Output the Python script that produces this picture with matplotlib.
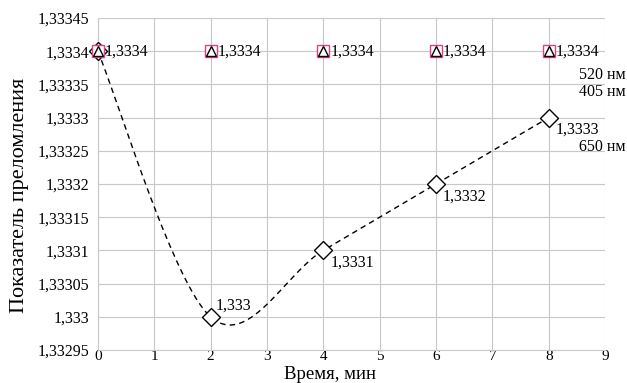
import numpy as np
import matplotlib.pyplot as plt
from matplotlib.ticker import FuncFormatter

plt.rcParams['font.family'] = ['Liberation Serif', 'DejaVu Serif']

time_min = [0, 2, 4, 6, 8]
n_520 = [1.3334, 1.3334, 1.3334, 1.3334, 1.3334]
n_405 = [1.3334, 1.3334, 1.3334, 1.3334, 1.3334]
n_650 = [1.3334, 1.3330, 1.3331, 1.3332, 1.3333]
y_ticks = [1.33295, 1.333, 1.33305, 1.3331, 1.33315, 1.3332,
           1.33325, 1.3333, 1.33335, 1.3334, 1.33345]


def comma(v, pos=None):
    s = f"{v:.5f}".rstrip("0").rstrip(".")
    return s.replace(".", ",")


def smooth(xs, ys, steps=40):
    # Excel-like smoothed line (Catmull-Rom through bezier segments)
    x = np.array(xs, float)
    y = np.array(ys, float)
    px = np.concatenate([[x[0]], x, [x[-1]]])
    py = np.concatenate([[y[0]], y, [y[-1]]])
    ox, oy = [], []
    t = np.linspace(0, 1, steps)
    for i in range(1, len(px) - 2):
        p0 = np.array([px[i], py[i]])
        p3 = np.array([px[i + 1], py[i + 1]])
        p1 = p0 + (np.array([px[i + 1], py[i + 1]]) - np.array([px[i - 1], py[i - 1]])) / 6
        p2 = p3 - (np.array([px[i + 2], py[i + 2]]) - np.array([px[i], py[i]])) / 6
        b = ((1 - t) ** 3)[:, None] * p0 + (3 * (1 - t) ** 2 * t)[:, None] * p1 \
            + (3 * (1 - t) * t ** 2)[:, None] * p2 + (t ** 3)[:, None] * p3
        ox.extend(b[:, 0])
        oy.extend(b[:, 1])
    return ox, oy


fig = plt.figure(figsize=(6.27, 3.83), dpi=100)
ax = fig.add_axes([0.156, 0.086, 0.809, 0.867])

sx, sy = smooth(time_min, n_650)
ax.plot(sx, sy, color="black", linestyle=(0, (4, 3)), linewidth=1.0, zorder=3, clip_on=False)
ax.plot(time_min, n_650, linestyle="none", marker="D", markersize=9,
        markerfacecolor="white", markeredgecolor="black", markeredgewidth=1.0,
        zorder=4, clip_on=False)
ax.plot(time_min, n_520, linestyle="none", marker="s", markersize=8.5,
        markerfacecolor="white", markeredgecolor="#e0408a", markeredgewidth=1.0,
        zorder=5, clip_on=False)
ax.plot(time_min, n_405, linestyle="none", marker="^", markersize=7,
        markerfacecolor="white", markeredgecolor="black", markeredgewidth=1.0,
        zorder=6, clip_on=False)

for x, y in zip(time_min, n_405):
    ax.annotate(comma(y), (x, y), xytext=(5, 0), textcoords="offset points",
                va="center", ha="left", fontsize=11.5, zorder=7)
for x, y in zip(time_min[1:], n_650[1:]):
    if x == 2:
        ax.annotate(comma(y), (x, y), xytext=(4, 2), textcoords="offset points",
                    va="bottom", ha="left", fontsize=11.5)
    else:
        ax.annotate(comma(y), (x, y), xytext=(5, -3), textcoords="offset points",
                    va="top", ha="left", fontsize=11.5)

ax.set_xlim(0, 9)
ax.set_ylim(1.33295, 1.33345)
ax.set_xticks(range(10))
ax.set_yticks(y_ticks)
ax.yaxis.set_major_formatter(FuncFormatter(comma))
ax.tick_params(axis="both", labelsize=11.5, length=0)
ax.tick_params(axis="y", pad=6)
ax.tick_params(axis="x", labelsize=11, pad=0)
ax.grid(True, color="#c8c8c8", linewidth=0.8)
ax.set_axisbelow(True)
for sp in ax.spines.values():
    sp.set_color("#c8c8c8")
    sp.set_linewidth(0.8)
ax.spines["top"].set_visible(False)
ax.spines["right"].set_visible(False)

ax.set_xlabel("Время, мин", fontsize=13.5)
ax.xaxis.set_label_coords(0.458, -0.1, transform=ax.transAxes)
ax.xaxis.label.set_va("bottom")
ax.set_ylabel("Показатель преломления", fontsize=16)
ax.yaxis.set_label_coords(-0.155, 0.467, transform=ax.transAxes)
ax.yaxis.label.set_va("center")

fig.text(0.998, 0.805, "520 нм", ha="right", va="center", fontsize=11.5)
fig.text(0.998, 0.760, "405 нм", ha="right", va="center", fontsize=11.5)
fig.text(0.998, 0.615, "650 нм", ha="right", va="center", fontsize=11.5)

fig.savefig("out.png", dpi=100)
